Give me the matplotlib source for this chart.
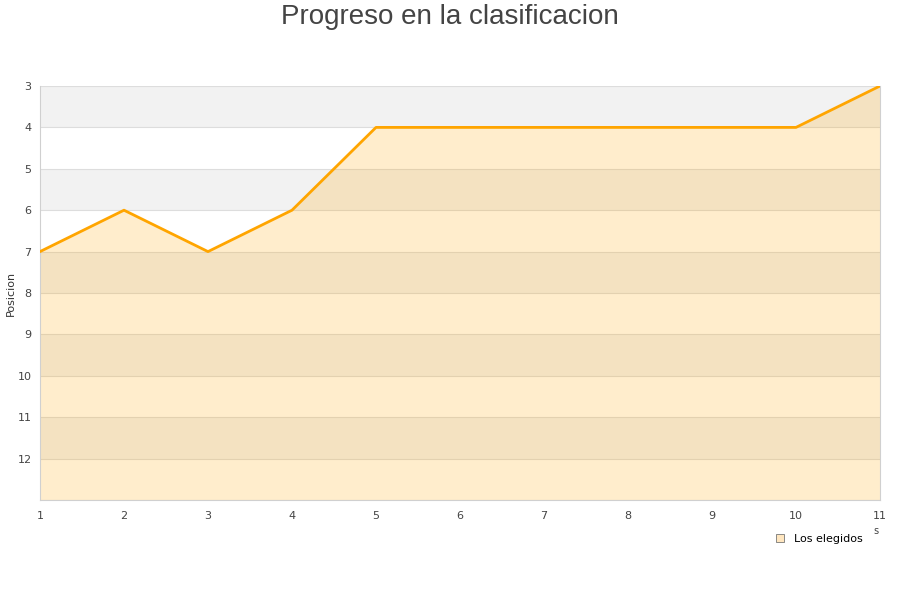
import matplotlib
matplotlib.use("Agg")
import matplotlib.pyplot as plt
from matplotlib.lines import Line2D

jornadas = [1, 2, 3, 4, 5, 6, 7, 8, 9, 10, 11]
posiciones = [7, 6, 7, 6, 4, 4, 4, 4, 4, 4, 3]
y_ticks = [3, 4, 5, 6, 7, 8, 9, 10, 11, 12]
serie = "Los elegidos"
titulo = "Progreso en la clasificacion"
ylabel = "Posicion"

fig = plt.figure(figsize=(9, 6), dpi=100)
ax = fig.add_axes([40/900, 100/600, 840/900, 414/600])

ymin, ymax = 3, 13
ax.set_xlim(1, 11)
ax.set_ylim(ymax, ymin)

# alternating bands
for y0 in range(ymin, ymax, 2):
    ax.axhspan(y0, y0 + 1, color="#f2f2f2", zorder=0, lw=0)
for y in range(ymin, ymax + 1):
    ax.axhline(y, color="#dddddd", lw=0.8, zorder=1)

ax.fill_between(jornadas, posiciones, ymax, color="#ffa500", alpha=0.2, lw=0, zorder=2)
ax.plot(jornadas, posiciones, color="#ffa500", lw=2, zorder=3)

ax.set_xticks(jornadas)
ax.set_yticks(y_ticks)
ax.tick_params(axis="both", length=0, labelsize=8, colors="#444444")
ax.tick_params(axis="x", pad=8)
ax.tick_params(axis="y", pad=6)
for s in ax.spines.values():
    s.set_color("#d0d0d0")
ax.spines["top"].set_visible(False)

fig.text(11/900, 1 - 293/600, ylabel, rotation=90, ha="center", va="center",
         fontsize=8, color="#333333")

fig.text(0.5, 1 - 17/600, titulo, ha="center", va="center", fontsize=20,
         color="#444444", family="Liberation Sans")

# clipped x-axis title remnant
fig.text(876/900, 1 - 531/600, "s", ha="center", va="center", fontsize=7, color="#444444")

handle = Line2D([], [], marker="s", linestyle="none", markersize=6,
                markerfacecolor="#ffe6bf", markeredgecolor="#777777", markeredgewidth=0.6)
fig.legend([handle], [serie], loc="center left", bbox_to_anchor=(763/900, 1 - 539/600),
           frameon=False, fontsize=8, handletextpad=0.3, borderpad=0)

fig.savefig("out.png", dpi=100)
